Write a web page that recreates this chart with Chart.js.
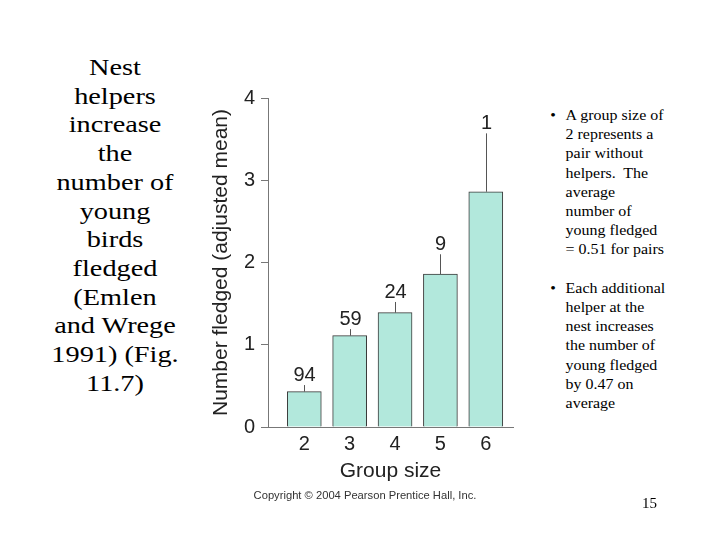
<!DOCTYPE html>
<html>
<head>
<meta charset="utf-8">
<script src="https://cdn.jsdelivr.net/npm/chart.js@4.4.0/dist/chart.umd.min.js"></script>
<style>
  html, body { margin: 0; padding: 0; background: #fff; }
  #slide { position: relative; width: 720px; height: 540px; overflow: hidden; background: #fff; }
  .serif { font-family: "Liberation Serif", "Times New Roman", serif; color: #000; }
  #left-text {
    position: absolute; left: 40px; top: 54px; width: 150px;
    font-size: 23px; line-height: 28.7px; text-align: center;
    transform: scaleX(1.23); transform-origin: 75px 0;
  }
  #right-text {
    position: absolute; left: 548px; top: 106px; width: 160px;
    font-size: 14.5px; line-height: 19.2px;
    transform: scaleX(1.1); transform-origin: 0 0;
  }
  #right-text .item { position: relative; padding-left: 16px; }
  #right-text .item::before { content: "\2022"; position: absolute; left: 2px; top: 0; }
  #right-text .gap { height: 19.2px; }
  #page-no { position: absolute; left: 642px; top: 495px; font-size: 15px; }
  #copyright {
    position: absolute; left: 200px; top: 489px; width: 330px; text-align: center;
    font-family: "Liberation Sans", Arial, sans-serif; font-size: 11.2px; color: #333;
  }
  #chart-wrap { position: absolute; left: 195px; top: 80px; width: 330px; height: 420px; }
</style>
</head>
<body>
<div id="slide">
  <div id="left-text" class="serif">Nest<br>helpers<br>increase<br>the<br>number of<br>young<br>birds<br>fledged<br>(Emlen<br>and Wrege<br>1991) (Fig.<br>11.7)</div>

  <div id="chart-wrap"><canvas id="fledgeChart" width="330" height="420"></canvas></div>

  <div id="right-text" class="serif">
    <div class="item">A group size of<br>2 represents a<br>pair without<br>helpers.&nbsp; The<br>average<br>number of<br>young fledged<br>= 0.51 for pairs</div>
    <div class="gap"></div>
    <div class="item">Each additional<br>helper at the<br>nest increases<br>the number of<br>young fledged<br>by 0.47 on<br>average</div>
  </div>

  <div id="copyright">Copyright © 2004 Pearson Prentice Hall, Inc.</div>
  <div id="page-no" class="serif">15</div>
</div>

<script>
/* ── Data ───────────────────────────────────────── */
const groupSizes   = [2, 3, 4, 5, 6];
const meanFledged  = [0.43, 1.11, 1.39, 1.86, 2.86];
const errorTop     = [0.51, 1.19, 1.52, 2.10, 3.57];
const sampleSizes  = [94, 59, 24, 9, 1];
const yTicks       = [0, 1, 2, 3, 4];

const yTitle = 'Number fledged (adjusted mean)';
const xTitle = 'Group size';

const sans = '"Liberation Sans", Arial, Helvetica, sans-serif';

/* ── Error bars + sample size labels ────────────── */
const errorBarPlugin = {
  id: 'errorBars',
  afterDatasetsDraw(chart) {
    const { ctx, scales: { x, y } } = chart;
    ctx.save();
    ctx.strokeStyle = '#555';
    ctx.lineWidth = 1;
    ctx.fillStyle = '#222';
    ctx.font = '20px ' + sans;
    ctx.textAlign = 'center';
    ctx.textBaseline = 'alphabetic';
    groupSizes.forEach((g, i) => {
      const px   = Math.round(x.getPixelForValue(g)) + 0.5;
      const yBar = y.getPixelForValue(meanFledged[i]);
      const yErr = y.getPixelForValue(errorTop[i]);
      ctx.beginPath();
      ctx.moveTo(px, yBar);
      ctx.lineTo(px, yErr);
      ctx.stroke();
      ctx.fillText(String(sampleSizes[i]), px, yErr - 4);
    });
    ctx.restore();
  }
};

/* ── Chart ──────────────────────────────────────── */
new Chart(document.getElementById('fledgeChart'), {
  type: 'bar',
  data: {
    datasets: [{
      data: groupSizes.map((g, i) => ({ x: g, y: meanFledged[i] })),
      backgroundColor: '#b2e8dc',
      borderColor: '#3a3a3a',
      borderWidth: 1,
      barThickness: 34,
    }]
  },
  options: {
    responsive: false,
    animation: false,
    devicePixelRatio: 1,
    layout: { padding: { left: 0, right: 12, top: 17, bottom: 0 } },
    plugins: { legend: { display: false }, tooltip: { enabled: false } },
    scales: {
      x: {
        type: 'linear',
        offset: false,
        min: 1.2, max: 6.6,
        afterFit: s => { s.height = 73; },
        afterBuildTicks: s => { s.ticks = groupSizes.map(v => ({ value: v })); },
        grid: { display: false, drawTicks: false, offset: false },
        border: { display: true, color: '#777', width: 1 },
        ticks: { padding: 5, color: '#222', font: { size: 20, family: sans } },
        title: {
          display: true, text: xTitle, color: '#222',
          font: { size: 21, family: sans }, padding: { top: 0, bottom: 16 }
        }
      },
      y: {
        min: 0, max: 4,
        afterFit: s => { s.width = 73; },
        afterBuildTicks: s => { s.ticks = yTicks.map(v => ({ value: v })); },
        grid: { drawOnChartArea: false, drawTicks: true, tickLength: 7, color: '#777' },
        border: { display: true, color: '#777', width: 1 },
        ticks: { padding: 6, color: '#222', font: { size: 20, family: sans } },
        title: {
          display: true, text: yTitle, color: '#222',
          font: { size: 21, family: sans }, padding: { top: 14, bottom: 0 }
        }
      }
    }
  },
  plugins: [errorBarPlugin]
});
</script>
</body>
</html>
